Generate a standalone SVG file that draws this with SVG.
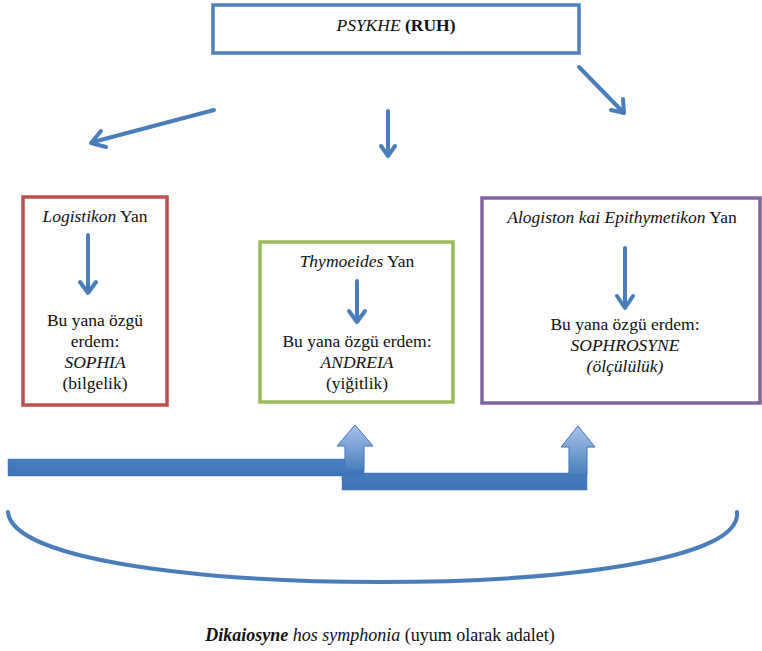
<svg xmlns="http://www.w3.org/2000/svg" width="762" height="651" viewBox="0 0 762 651">
<defs>
<style>
text{font-family:'Times New Roman','Liberation Serif',Tinos,'DejaVu Serif',serif;font-size:17.5px;fill:#111;text-anchor:middle}
.i{font-style:italic}
.b{font-weight:bold}
.box{fill:#fff;stroke-width:3.5}
.ln{fill:none;stroke:#4a7ebb;stroke-width:4;stroke-linecap:round;stroke-linejoin:round}
</style>
<linearGradient id="ug" x1="0" y1="0" x2="0" y2="1">
<stop offset="0" stop-color="#a7c3ea"/>
<stop offset="1" stop-color="#4a7ebb"/>
</linearGradient>
<linearGradient id="bg" x1="0" y1="0" x2="0" y2="1">
<stop offset="0" stop-color="#5b8fd0"/>
<stop offset="1" stop-color="#3f74b8"/>
</linearGradient>
</defs>
<rect width="762" height="651" fill="#fff"/>
<g id="psykhe">
<rect class="box" x="213" y="5" width="366" height="48" stroke="#4f81bd"/>
<text x="396" y="31"><tspan class="i">PSYKHE</tspan> <tspan class="b">(RUH)</tspan></text>
</g>

<g id="logistikon">
<rect class="box" x="23" y="197" width="144" height="208" stroke="#c0504d"/>
<text x="95" y="222"><tspan class="i">Logistikon</tspan> Yan</text>
<text x="95" y="326">Bu yana özgü</text>
<text x="95" y="347">erdem:</text>
<text x="95" y="368" class="i">SOPHIA</text>
<text x="95" y="389">(bilgelik)</text>
</g>

<g id="thymoeides">
<rect class="box" x="260" y="242" width="193" height="160" stroke="#9bbb59"/>
<text x="357" y="267"><tspan class="i">Thymoeides</tspan> Yan</text>
<text x="357" y="347">Bu yana özgü erdem:</text>
<text x="357" y="368" class="i">ANDREIA</text>
<text x="357" y="389">(yiğitlik)</text>
</g>

<g id="alogiston">
<rect class="box" x="482" y="198" width="278" height="205" stroke="#8064a2"/>
<text x="622" y="223"><tspan class="i">Alogiston kai Epithymetikon</tspan> Yan</text>
<text x="625" y="330">Bu yana özgü erdem:</text>
<text x="625" y="351" class="i">SOPHROSYNE</text>
<text x="625" y="372" class="i">(ölçülülük)</text>
</g>

<g id="connectors">
<path class="ln" d="M214,110 L93,142 M101,131 L91,143 L106,147"/>
<path class="ln" d="M388,111 L388,155 M381,146 L388,156 L395,146"/>
<path class="ln" d="M579,67 L622,111 M611,110 L624,113 L623,99"/>
<path class="ln" d="M88,235 L88,291 M80,282 L88,293 L96,282"/>
<path class="ln" d="M357,281 L357,320 M349,311 L357,322 L365,311"/>
<path class="ln" d="M625,248 L625,305 M617,296 L625,308 L633,296"/>
<path d="M342,473 L569,473 L569,447 L561,447 L578,426 L595,447 L587,447 L587,490 L342,490 Z" fill="url(#bg)" stroke="#3f74b8" stroke-width="0.5"/>
<path d="M8,459 L345,459 L345,446 L337,446 L355,425 L373,446 L364,446 L364,476 L8,476 Z" fill="url(#bg)" stroke="#3f74b8" stroke-width="0.5"/>
<path d="M345,459 L345,446 L337,446 L355,425 L373,446 L364,446 L364,470 L345,470 Z" fill="url(#ug)" stroke="#3f74b8" stroke-width="0.8"/>
<path d="M569,473 L569,447 L561,447 L578,426 L595,447 L587,447 L587,475 L569,475 Z" fill="url(#ug)" stroke="#3f74b8" stroke-width="0.8"/>
<path d="M8,512 C 12,560 200,582 380,582 C 560,582 742,560 737,512" fill="none" stroke="#4a7ebb" stroke-width="4" stroke-linecap="round"/>
</g>

<g id="caption">
<text x="380" y="641" style="font-size:18px"><tspan class="b i">Dikaiosyne</tspan> <tspan class="i">hos symphonia</tspan> (uyum olarak adalet)</text>
</g>
</svg>
